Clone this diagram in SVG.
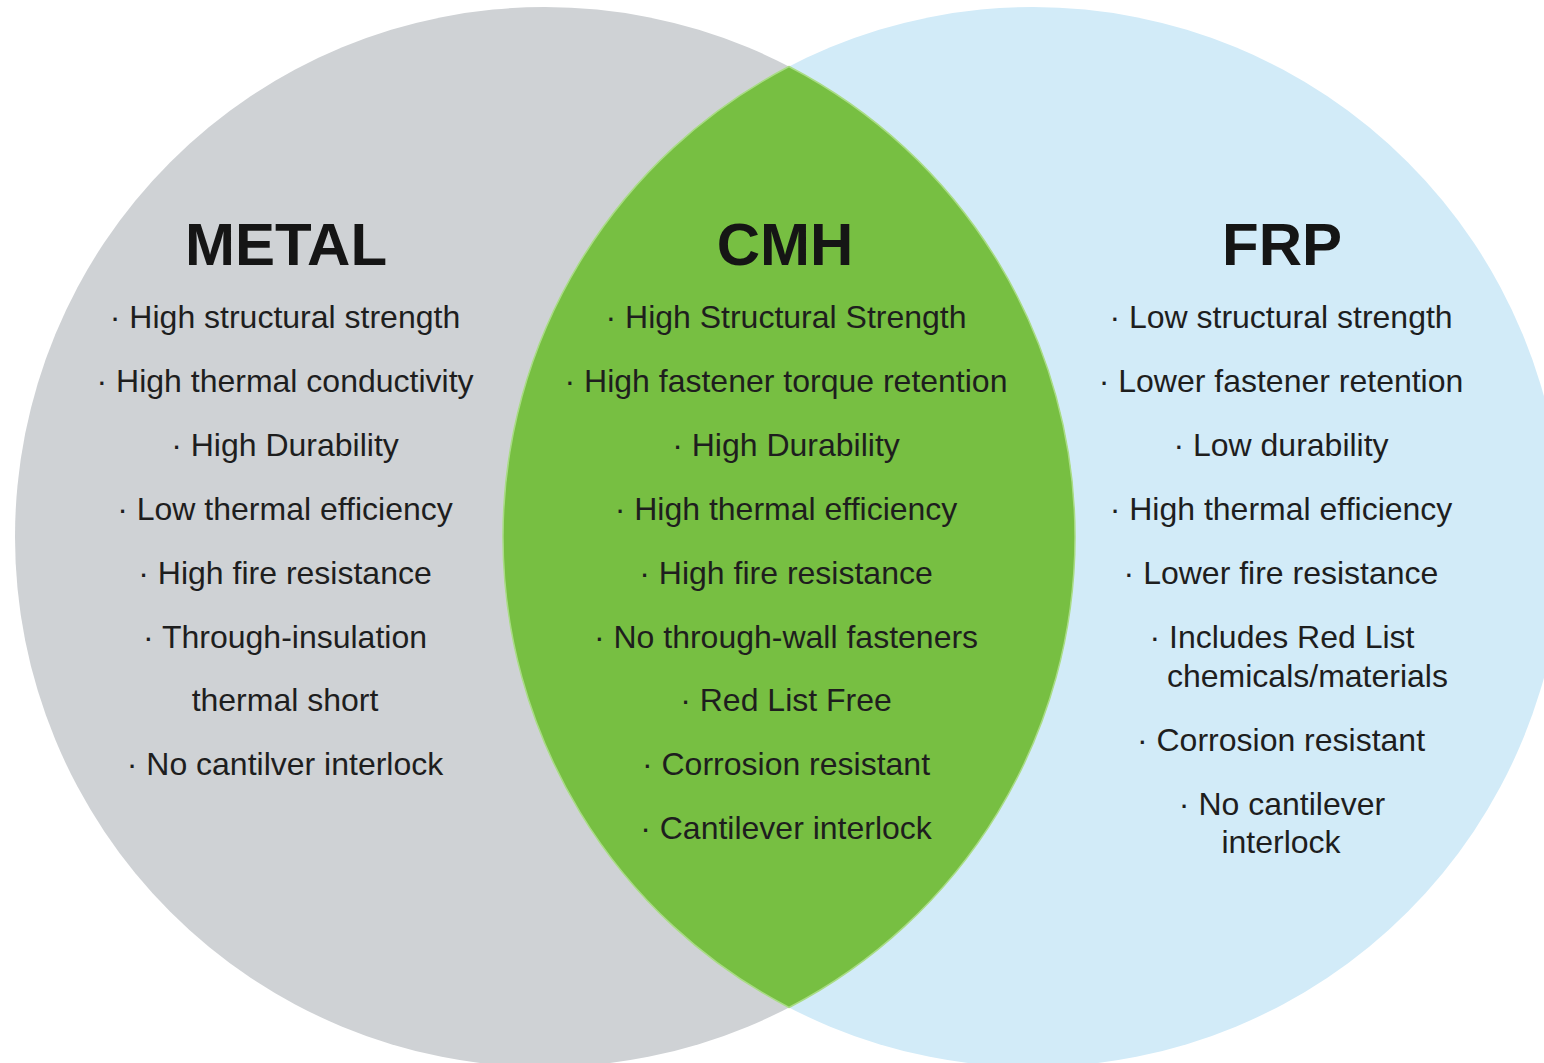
<svg xmlns="http://www.w3.org/2000/svg" width="1544" height="1063" viewBox="0 0 1544 1063">
  <style>
    .title { font-family: "Liberation Sans", Arial, sans-serif; font-weight: bold; font-size: 60px; fill: #151515; text-anchor: middle; }
    .item { font-family: "Liberation Sans", Arial, sans-serif; font-size: 32px; fill: #1e1e1e; text-anchor: middle; }
    .left { text-anchor: start; }
  </style>
  <rect width="1544" height="1063" fill="#ffffff"/>

  <!-- the two overlapping sets and their shared lens -->
  <g id="metal-set">
    <circle cx="545" cy="537" r="530" fill="#cfd2d5"/>
  </g>
  <g id="frp-set">
    <circle cx="1033" cy="537" r="530" fill="#d2ebf8"/>
  </g>
  <g id="cmh-set">
    <path d="M789,66.5 A530,530 0 0 1 789,1007.5 A530,530 0 0 1 789,66.5 Z" fill="#77bf42" stroke="#a9dc85" stroke-width="1.5"/>
  </g>

  <!-- METAL list -->
  <g id="metal-text">
    <text class="title" x="286" y="265">METAL</text>
    <text class="item" x="285" y="328">· High structural strength</text>
    <text class="item" x="285" y="392">· High thermal conductivity</text>
    <text class="item" x="285" y="456">· High Durability</text>
    <text class="item" x="285" y="520">· Low thermal efficiency</text>
    <text class="item" x="285" y="584">· High fire resistance</text>
    <text class="item" x="285" y="648">· Through-insulation</text>
    <text class="item" x="285" y="711">thermal short</text>
    <text class="item" x="285" y="775">· No cantilver interlock</text>
  </g>

  <!-- CMH list -->
  <g id="cmh-text">
    <text class="title" x="785" y="265">CMH</text>
    <text class="item" x="786" y="328">· High Structural Strength</text>
    <text class="item" x="786" y="392">· High fastener torque retention</text>
    <text class="item" x="786" y="456">· High Durability</text>
    <text class="item" x="786" y="520">· High thermal efficiency</text>
    <text class="item" x="786" y="584">· High fire resistance</text>
    <text class="item" x="786" y="648">· No through-wall fasteners</text>
    <text class="item" x="786" y="711">· Red List Free</text>
    <text class="item" x="786" y="775">· Corrosion resistant</text>
    <text class="item" x="786" y="839">· Cantilever interlock</text>
  </g>

  <!-- FRP list -->
  <g id="frp-text">
    <text class="title" x="1282" y="265">FRP</text>
    <text class="item" x="1281" y="328">· Low structural strength</text>
    <text class="item" x="1281" y="392">· Lower fastener retention</text>
    <text class="item" x="1281" y="456">· Low durability</text>
    <text class="item" x="1281" y="520">· High thermal efficiency</text>
    <text class="item" x="1281" y="584">· Lower fire resistance</text>
    <text class="item" x="1282" y="648">· Includes Red List</text>
    <text class="item left" x="1167" y="687">chemicals/materials</text>
    <text class="item" x="1281" y="751">· Corrosion resistant</text>
    <text class="item" x="1282" y="815">· No cantilever</text>
    <text class="item" x="1281" y="853">interlock</text>
  </g>
</svg>
